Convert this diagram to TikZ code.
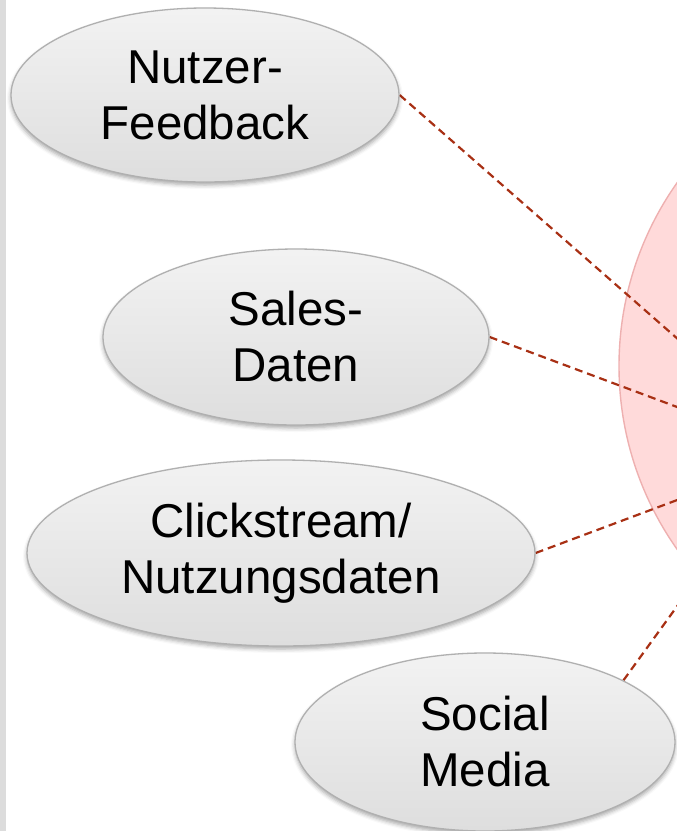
\documentclass[tikz,border=0pt]{standalone}
\usepackage{fontspec}
\setmainfont{Liberation Sans}
\usetikzlibrary{shapes.geometric,shadows.blur,backgrounds}

\definecolor{linkred}{RGB}{168,48,20}
\definecolor{hubfill}{RGB}{255,218,218}
\definecolor{hubedge}{RGB}{238,176,176}
\definecolor{bubedge}{RGB}{176,176,176}
\definecolor{stripgray}{RGB}{220,220,220}

\tikzset{
  source/.style={ellipse, inner sep=0pt, align=center,
    draw=bubedge, line width=1.3pt,
    top color=black!5, bottom color=black!13,
    blur shadow={shadow xshift=0pt, shadow yshift=-3pt,
      shadow blur radius=4pt, shadow opacity=35},
    font=\fontsize{47.5}{56}\selectfont},
  link/.style={draw=linkred, line width=2.2pt, dash pattern=on 8pt off 5pt}
}

\begin{document}
\begin{tikzpicture}[x=1pt,y=-1pt]
  \useasboundingbox (0,0) rectangle (677,831);
  \clip (0,0) rectangle (677,831);

  % data sources
  \node[source, minimum width=388pt, minimum height=174pt] (fb) at (205,95) {Nutzer-\\Feedback};
  \node[source, minimum width=386pt, minimum height=176pt] (sd) at (296,337) {Sales-\\Daten};
  \node[source, minimum width=508pt, minimum height=186pt] (cs) at (281,553) {Clickstream/\\Nutzungsdaten};
  \node[source, minimum width=380pt, minimum height=178pt] (sm) at (485,742) {Social\\Media};

  % far ends of the connectors inside the hub
  \coordinate (t1) at (720,376);
  \coordinate (t2) at (720,423);
  \coordinate (t3) at (720,484);
  \coordinate (t4) at (720,547);

  \begin{pgfonlayer}{background}
    % left margin strip
    \fill[stripgray] (0,0) rectangle (6,831);
    % central hub, partly outside the frame
    \node[circle, minimum size=636pt, inner sep=0pt,
          fill=hubfill, draw=hubedge, line width=1.4pt] (hub) at (937,366) {};
    % connectors
    \draw[link] (fb.east) -- (t1);
    \draw[link] (sd.east) -- (t2);
    \draw[link] (cs.east) -- (t3);
    \draw[link] (sm.24) -- (t4);
  \end{pgfonlayer}
\end{tikzpicture}
\end{document}
